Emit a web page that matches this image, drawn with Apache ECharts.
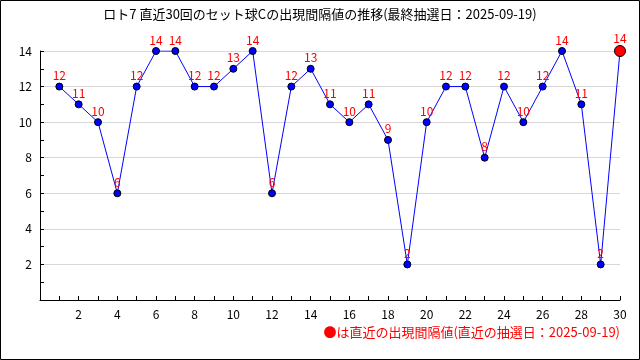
<!DOCTYPE html>
<html><head><meta charset="utf-8">
<script src="https://cdn.jsdelivr.net/npm/echarts@6/dist/echarts.min.js"></script>
<style>html,body{margin:0;padding:0;background:#fff}#c{width:640px;height:360px}</style>
</head><body><div id="c"></div>
<script>
const draws = [1,2,3,4,5,6,7,8,9,10,11,12,13,14,15,16,17,18,19,20,21,22,23,24,25,26,27,28,29,30];
const intervals = [12,11,10,6,12,14,14,12,12,13,14,6,12,13,11,10,11,9,2,10,12,12,8,12,10,12,14,11,2,14];
const titleText = 'ロト7 直近30回のセット球Cの出現間隔値の推移(最終抽選日：2025-09-19)';
const noteText = '●は直近の出現間隔値(直近の抽選日：2025-09-19)';
const FONT = "'Noto Sans CJK JP', 'DejaVu Sans Mono', sans-serif";

const data = draws.map((d, i) => {
  const last = i === draws.length - 1;
  return {
    value: [d, intervals[i]],
    symbolSize: last ? 11 : 7,
    itemStyle: { color: last ? '#ff0000' : '#0000ff', borderColor: '#000', borderWidth: 1 }
  };
});

const chart = echarts.init(document.getElementById('c'), null, { renderer: 'canvas' });
chart.setOption({
  animation: false,
  backgroundColor: '#fff',
  title: {
    text: titleText, left: 'center', top: 3,
    textStyle: { fontFamily: FONT, fontSize: 13, fontWeight: 'normal', color: '#000' }
  },
  graphic: [
    { type: 'rect', shape: { x: 0.5, y: 0.5, width: 639, height: 359 }, style: { fill: 'none', stroke: '#000', lineWidth: 1 }, silent: true },
    { type: 'text', right: 20, top: 326, style: { text: noteText, fill: '#ff0000', font: "13px 'Noto Sans CJK JP', sans-serif" } }
  ],
  grid: { left: 40, right: 20, top: 51, bottom: 60 },
  xAxis: {
    type: 'value', min: 0, max: 30, interval: 2,
    axisLine: { lineStyle: { color: '#000', width: 1 } },
    axisTick: { show: true, inside: true, length: 4, lineStyle: { color: '#000' } },
    minorTick: { show: true, splitNumber: 2, length: 4, lineStyle: { color: '#000' } },
    splitLine: { show: false },
    axisLabel: { color: '#000', fontFamily: FONT, fontSize: 12, margin: 8, formatter: v => v === 0 ? '' : String(v) }
  },
  yAxis: {
    type: 'value', min: 0, max: 14, interval: 2,
    axisLine: { show: true, lineStyle: { color: '#000', width: 1 } },
    axisTick: { show: true, inside: true, length: 4, lineStyle: { color: '#000' } },
    minorTick: { show: true, splitNumber: 2, length: 4, lineStyle: { color: '#000' } },
    splitLine: { show: true, lineStyle: { color: '#d8d8d8', width: 1 } },
    axisLabel: { color: '#000', fontFamily: FONT, fontSize: 12, margin: 8, formatter: v => v === 0 ? '' : String(v) }
  },
  series: [{
    type: 'line', data: data, symbol: 'circle',
    lineStyle: { color: '#0000ff', width: 1 },
    label: { show: true, position: 'top', distance: 1, color: '#ff0000', fontFamily: FONT, fontSize: 12, formatter: p => p.value[1] }
  }]
});
</script></body></html>
